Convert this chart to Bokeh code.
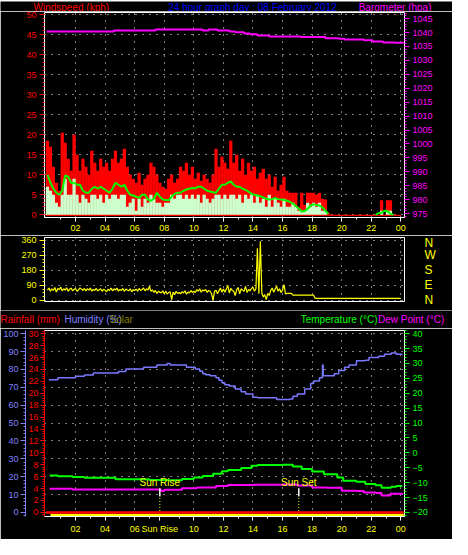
from bokeh.plotting import figure
from bokeh.layouts import column
from bokeh.models import Range1d, LinearAxis, FixedTicker, SingleIntervalTicker, Label, Grid
from bokeh.embed import file_html
from bokeh.resources import INLINE

nan = float("nan")
FONT = "Liberation Sans"

# ---------------- data ----------------
hour_ticks = [2, 4, 6, 8, 10, 12, 14, 16, 18, 20, 22, 24]
hour_labels = ["02", "04", "06", "08", "10", "12", "14", "16", "18", "20", "22", "00"]
minor_hours = [1, 3, 5, 7, 9, 11, 13, 15, 17, 19, 21, 23]
sunrise = 7.7
sunset = 17.1

# windspeed (kph), sampled every 12 minutes
wind_t = [round(0.1 + 0.2 * i, 1) for i in range(120)]
wind_gust = [18.5, 17, 12, 8, 6, 20.5, 18, 14, 11, 20,
             15, 11, 14, 12, 10, 16, 13, 11, 14, 12,
             13, 11, 14, 16, 13, 14, 16.5, 12, 10, 9,
             8, 10.5, 7.5, 9, 10, 13, 12, 10, 8, 7,
             6.5, 9, 10, 8, 9, 12, 11, 13, 10, 12,
             9, 10.5, 8.5, 10, 9, 8, 10, 16.5, 12, 14.5,
             13, 11.5, 18.5, 13, 15, 11, 14, 10, 13, 11,
             12, 9, 10.5, 11.5, 9, 10, 7, 9.5, 6, 7.5,
             9.5, 6, 5.5, 5.5, 5.5, 2, 5.5, 2.5, 5.5, 5.5,
             5.5, 5, 5.5, 4, 3.8, 0.5, 0, 0, 0, 0,
             0, 0, 0, 0, 0, 0, 0, 0, 0, 0,
             0, 0, 0, 3.6, 0, 3.6, 3.6, 0, 0, 0]
wind_avg = [7, 6, 5, 3, 2, 5, 9, 5, 5, 9,
            5, 3, 5, 4, 3, 5, 5, 4, 5, 3,
            5, 4, 5, 5, 4, 5, 5, 2, 3, 4,
            1, 4, 2, 4, 3, 5, 4, 3, 3, 2,
            3, 3, 5, 4, 5, 5, 4, 5, 4, 5,
            4, 5, 3, 5, 4, 3, 4, 5, 5, 4,
            5, 4, 5, 5, 4, 5, 3, 5, 4, 5,
            3, 5, 3, 4, 2, 5, 2, 4, 3, 2,
            4, 2, 2, 3, 2, 1, 1, 1, 3, 2,
            3, 2, 3, 1, 1, 0, 0, 0, 0, 0,
            0, 0, 0, 0, 0, 0, 0, 0, 0, 0,
            0, 0, 0, 1, 0, 1, 1, 0, 0, 0]
wind_10min = [10, 8, 6.5, 5.5, 5, 6, 9.8, 9.5, 8, 8,
              7.5, 7.5, 6, 5.5, 5.5, 6.5, 7, 6.5, 7, 6.5,
              6, 5.5, 6.5, 8, 7.5, 7, 7.5, 6, 5, 4.8,
              4.5, 4.2, 5, 5, 3.8, 3.5, 4, 5.5, 4.5, 3.8,
              3.7, 3.6, 4.5, 5.2, 5.5, 5.5, 6, 6.3, 6.5, 6.7,
              6.6, 7, 7, 6.5, 6, 5.8, 5.6, 5.5, 6.5, 7.5,
              7.5, 8, 8.3, 7.5, 7, 7, 6.5, 6.2, 5.8, 5.2,
              5, 4.8, 4.6, 4.3, 4, 3.8, 3.9, 4.2, 3.9, 3.8,
              3.7, 3.5, 3.2, 2.8, 2.2, 1.5, 0.8, 0.9, 1.5, 2.3,
              2.6, 2.4, 2.3, 1.8, 1.0, 0.2, nan, nan, nan, nan,
              nan, nan, nan, nan, nan, nan, nan, nan, nan, nan,
              nan, 0, 0.4, 0.5, 1.0, 0.9, 0.2, 0, nan, nan]

# barometer (hPa)
baro_t = [0.05, 4.6, 7.4, 10.6, 11.0, 11.6, 12.4, 12.8, 13.4, 13.8, 14.3,
          15.1, 17.2, 18.9, 19.8, 20.2, 21.5, 22.1, 22.8, 23.6, 24.2]
baro = [1040.4, 1040.75, 1041.1, 1040.75, 1041.1, 1040.75, 1040.4, 1040.1, 1039.7, 1039.4, 1038.9,
        1038.6, 1038.4, 1038.0, 1037.8, 1037.5, 1037.2, 1036.8, 1036.4, 1036.3, 1036.3]

# wind direction (degrees), every 6 minutes
dir_t = [round(0.1 * (i + 1), 1) for i in range(240)]
wind_dir = [62, 75, 55, 70, 60, 78, 50, 72, 65, 80, 58, 70, 62, 76, 55, 68, 74, 58, 66, 72,
            55, 63, 75, 68, 60, 72, 58, 70, 62, 74, 56, 66, 60, 72, 58, 64, 70, 55, 67, 61,
            52, 68, 60, 75, 58, 70, 62, 74, 56, 66, 60, 72, 55, 68, 63, 58, 70, 52, 65, 60,
            68, 56, 72, 60, 66, 75, 58, 70, 62, 85, 55, 64, 48, 60, 42, 55, 50, 45, 58, 40,
            55, 38, 48, 52, 5, 50, 35, 55, 42, 48, 40, 52, 45, 58, 38, 50, 45, 60, 48, 55,
            48, 65, 55, 70, 50, 62, 58, 66, 48, 60, 55, 40, 2, 55, 62, 40, 58, 75, 50, 68,
            50, 68, 90, 45, 72, 60, 55, 30, 65, 78, 40, 70, 62, 55, 85, 48, 66, 58, 72, 80,
            55, 70, 313, 40, 354, 45, 20, 35, 5, 42, 30, 60, 75, 50, 68, 85, 55, 70, 48, 62,
            95, 40, 43, 43, 43, 43, 32, 32, 32, 32, 32, 32, 32, 32, 32, 32, 32, 32, 32, 32,
            32, 13, 13, 13, 13, 13, 13, 13, 13, 13, 13, 13, 13, 13, 13, 13, 13, 13, 13, 13,
            13, 13, 13, 13, 13, 13, 13, 13, 13, 13, 13, 13, 13, 13, 13, 13, 13, 13, 13, 13,
            13, 13, 13, 13, 13, 13, 13, 13, 13, 13, 13, 13, 13, 13, 13, 13, 13, 13, 13, 13]
dir_ticks = [0, 90, 180, 270, 360]
dir_labels = ["N", "E", "S", "W", "N"]

# humidity (%)
hum_t = [0.2, 0.8, 2.0, 2.6, 3.2, 4.9, 5.4, 6.6, 7.5, 8.2, 8.4, 9.5, 10.1, 10.4, 10.6,
         10.8, 11.1, 11.5, 11.7, 11.9, 12.1, 12.4, 12.8, 13.2, 13.5, 14.0, 14.3, 15.6, 16.5, 16.7,
         17.0, 17.5, 17.9, 18.1, 18.5, 18.7, 18.75, 19.5, 19.8, 20.2, 20.5, 21.0, 21.6, 21.85, 22.5,
         22.9, 23.35, 23.7, 24.1]
hum = [74.2, 75.3, 76.2, 76.9, 78.0, 78.9, 80.2, 81.2, 82.5, 83.4, 82.5, 81.2, 80.2, 79.0, 77.6,
       77.0, 76.5, 75.3, 74.0, 72.5, 71.5, 70.8, 69.0, 67.5, 66.3, 64.5, 64.1, 63.2, 63.5, 65.0,
       66.3, 69.0, 72.2, 73.5, 75.3, 82.5, 76.5, 77.6, 79.4, 81.2, 82.5, 84.8, 85.2, 86.7, 87.4,
       88.5, 89.2, 88.5, 88.6]

# temperature (C)
temp_t = [0.25, 0.8, 1.8, 2.6, 4.7, 7.0, 8.3, 9.2, 10.0, 10.6, 11.3, 11.9, 12.3, 13.2, 13.9,
          14.3, 16.0, 16.7, 17.3, 18.0, 18.8, 19.7, 20.1, 21.0, 21.6, 22.3, 22.7, 23.35, 23.7, 24.1]
temp = [-7.6, -7.9, -8.1, -8.4, -8.9, -9.1, -9.2, -8.8, -8.3, -7.8, -7.0, -6.2, -5.8, -5.1, -4.3,
        -4.1, -4.0, -4.6, -5.4, -6.3, -7.2, -8.3, -9.4, -9.7, -10.5, -10.9, -11.7, -11.4, -11.1, -11.1]

# dew point (C)
dew_t = [0.25, 1.8, 4.7, 7.6, 7.8, 8.0, 9.2, 10.2, 11.5, 12.3, 14.0, 16.0, 17.0, 18.0, 19.0,
         20.0, 21.0, 21.5, 22.3, 22.7, 23.3, 24.1]
dew = [-12.1, -12.3, -12.3, -12.4, -12.8, -12.4, -11.9, -11.6, -11.1, -10.8, -10.7, -10.6, -11.0,
       -11.6, -11.7, -12.7, -12.8, -13.3, -13.5, -14.3, -13.7, -13.5]

# rainfall (mm) and solar (W/m2)
rain_t = [0.0, 24.2]
rain = [0, 0]
solar_t = [0.3, 24.2]
solar = [0, 0]

for a, b in [(wind_t, wind_gust), (wind_t, wind_avg), (wind_t, wind_10min), (baro_t, baro),
             (dir_t, wind_dir), (hum_t, hum), (temp_t, temp), (dew_t, dew)]:
    assert len(a) == len(b), (len(a), len(b))

# ---------------- helpers ----------------
W = 452
x_range = Range1d(-0.1, 24.25)


def base_fig(height, y_range, top, bottom, **kw):
    p = figure(width=W, height=height, x_range=x_range, y_range=y_range,
               output_backend="svg", toolbar_location=None,
               background_fill_color="black", border_fill_color="black",
               outline_line_color="white", outline_line_width=1,
               min_border_left=40, min_border_right=48,
               min_border_top=top, min_border_bottom=bottom, **kw)
    p.xgrid.visible = False
    p.ygrid.visible = False
    return p


def header(height):
    h = figure(width=W, height=height, x_range=Range1d(0, W), y_range=Range1d(0, height),
               output_backend="svg", toolbar_location=None,
               background_fill_color="black", border_fill_color="black",
               outline_line_color=None, min_border=0,
               min_border_left=0, min_border_right=0, min_border_top=0, min_border_bottom=0,
               x_axis_location=None, y_axis_location=None, frame_align=False)
    h.xgrid.visible = False
    h.ygrid.visible = False
    return h


def style_axis(ax, color, line=None, size="9px", standoff=3):
    ax.axis_line_color = line
    ax.major_tick_line_color = color
    ax.minor_tick_line_color = color
    ax.major_label_text_color = color
    ax.major_label_text_font = FONT
    ax.major_label_text_font_size = size
    ax.major_tick_in = 0
    ax.major_tick_out = 5
    ax.minor_tick_in = 0
    ax.minor_tick_out = 2
    ax.major_label_standoff = standoff


def dotted_grid(p, dim, ticker, **kw):
    g = Grid(dimension=dim, ticker=ticker, grid_line_color="white",
             grid_line_dash="1 6", grid_line_width=1, **kw)
    p.add_layout(g)


def style_x(ax, ticks, overrides):
    ax.ticker = FixedTicker(ticks=ticks, minor_ticks=minor_hours)
    ax.major_label_overrides = overrides
    ax.axis_line_color = "white"
    ax.major_tick_line_color = "white"
    ax.minor_tick_line_color = "white"
    ax.major_tick_in = 0
    ax.major_tick_out = 4
    ax.minor_tick_in = 0
    ax.minor_tick_out = 2
    ax.major_label_text_color = "#ffff00"
    ax.major_label_text_font = FONT
    ax.major_label_text_font_size = "9px"
    ax.major_label_standoff = 3


def label(p, x, y, text, color, align="left", size="10px"):
    p.add_layout(Label(x=x, y=y, text=text, text_color=color, text_font=FONT,
                       text_font_size=size, text_align=align, text_baseline="middle"))


hour_over = dict(zip(hour_ticks, hour_labels))

# ---------------- header of top panel ----------------
h1 = header(11)
label(h1, 33, 5.5, "Windspeed (kph)", "#ff0000")
label(h1, 252, 5.5, "24 hour graph day : 08 February 2012", "#0000ff", align="center")
label(h1, 431, 5.5, "Barometer (hpa)", "#ff00ff", align="right")

# ---------------- top panel: wind speed + barometer ----------------
p1 = base_fig(224, Range1d(-0.7, 50.6), 1, 18)
p1.extra_y_ranges = {"baro": Range1d(973.6, 1047.2)}
p1.yaxis.ticker = SingleIntervalTicker(interval=5, num_minor_ticks=5)
style_axis(p1.yaxis[0], "#ff0000")
baro_ax = LinearAxis(y_range_name="baro", ticker=SingleIntervalTicker(interval=5, num_minor_ticks=5))
style_axis(baro_ax, "#ff00ff")
p1.add_layout(baro_ax, "right")
style_x(p1.xaxis[0], hour_ticks, hour_over)
dotted_grid(p1, 0, FixedTicker(ticks=hour_ticks))
dotted_grid(p1, 1, SingleIntervalTicker(interval=5))

p1.vbar(x=wind_t, width=0.22, top=wind_gust, bottom=-0.3, fill_color="#ff0000", line_color=None)
p1.vbar(x=wind_t, width=0.22, top=wind_avg, bottom=0, fill_color="#ccffcc", line_color=None)
p1.line(wind_t, wind_10min, line_color="#00ff00", line_width=2)
p1.step(baro_t, baro, mode="after", line_color="#ff00ff", line_width=2, y_range_name="baro")

# ---------------- middle panel: wind direction ----------------
p2 = base_fig(75, Range1d(-6, 377), 2, 9, x_axis_location=None)
p2.yaxis.ticker = SingleIntervalTicker(interval=90, num_minor_ticks=4)
style_axis(p2.yaxis[0], "#ffff00")
dir_ax = LinearAxis(ticker=FixedTicker(ticks=dir_ticks),
                    major_label_overrides=dict(zip(dir_ticks, dir_labels)))
style_axis(dir_ax, "#ffff00", size="12px", standoff=20)
dir_ax.major_tick_line_color = None
dir_ax.minor_tick_line_color = None
dir_ax.major_tick_out = 0
p2.add_layout(dir_ax, "right")
dotted_grid(p2, 0, FixedTicker(ticks=hour_ticks))
dotted_grid(p2, 1, FixedTicker(ticks=dir_ticks))
p2.line(dir_t, wind_dir, line_color="#ffff00", line_width=1.2)

# ---------------- header of bottom panel ----------------
h3 = header(18)
label(h3, 0, 9, "Rainfall (mm)", "#ff0000")
label(h3, 64, 9, "Humidity (%)", "#8080ff")
label(h3, 109, 9, "Solar", "#808000")
label(h3, 377, 9, "Temperature (\u00b0C)", "#00ff00", align="right")
label(h3, 377.5, 9, "Dew Point (\u00b0C)", "#ff00ff")

# ---------------- bottom panel: rain, humidity, solar, temp, dew ----------------
p3 = base_fig(211, Range1d(-2.3, 101.8), 2, 23, y_axis_location=None)
p3.extra_y_ranges = {"rain": Range1d(-0.69, 30.54), "temp": Range1d(-21.38, 41.08),
                     "solar": Range1d(-8, 992)}
rain_ax = LinearAxis(y_range_name="rain", ticker=SingleIntervalTicker(interval=2, num_minor_ticks=5))
style_axis(rain_ax, "#ff0000", line="#ff0000", standoff=2)
rain_ax.major_tick_out = 4
p3.add_layout(rain_ax, "left")
hum_ax = LinearAxis(ticker=SingleIntervalTicker(interval=10, num_minor_ticks=5))
style_axis(hum_ax, "#8080ff", line="#8080ff", standoff=2)
p3.add_layout(hum_ax, "left")
temp_ax = LinearAxis(y_range_name="temp", ticker=SingleIntervalTicker(interval=5, num_minor_ticks=5))
style_axis(temp_ax, "#00ff00")
p3.add_layout(temp_ax, "right")

grid_hours = [h for h in hour_ticks if abs(h - sunrise) > 0.5]
bottom_ticks = sorted(grid_hours + [sunrise])
bottom_over = dict(hour_over)
bottom_over[sunrise] = "Sun Rise"
style_x(p3.xaxis[0], bottom_ticks, bottom_over)
dotted_grid(p3, 0, FixedTicker(ticks=grid_hours))
dotted_grid(p3, 1, SingleIntervalTicker(interval=10))

p3.step(hum_t, hum, mode="after", line_color="#7878ff", line_width=1.5)
p3.step(temp_t, temp, mode="after", line_color="#00ff00", line_width=2, y_range_name="temp")
p3.step(dew_t, dew, mode="after", line_color="#ff00ff", line_width=2, y_range_name="temp")
p3.line(solar_t, solar, line_color="#ffff00", line_width=2.5, y_range_name="solar")
p3.line(rain_t, rain, line_color="#ff0000", line_width=2.5, y_range_name="rain")

p3.segment(x0=[sunrise, sunset], y0=[0.8, 0.8], x1=[sunrise, sunset], y1=[8.9, 8.9],
           line_color="#ffff00", line_dash="1 2", line_width=1)
p3.segment(x0=[sunrise, sunset], y0=[8.9, 8.9], x1=[sunrise, sunset], y1=[13.5, 13.5],
           line_color="white", line_width=1.5)
label(p3, sunrise, 16.9, "Sun Rise", "#ffff00", align="center")
label(p3, sunset, 16.9, "Sun Set", "#ffff00", align="center")

layout = column(h1, p1, p2, h3, p3, spacing=0)
open("out.html", "w").write(file_html(layout, INLINE))
